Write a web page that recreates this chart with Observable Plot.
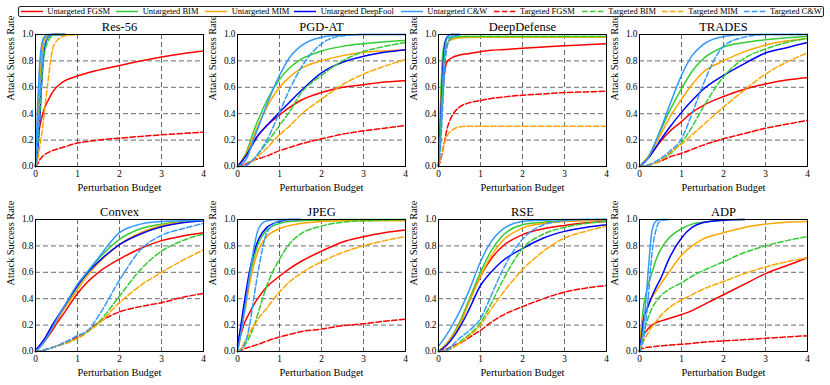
<!DOCTYPE html>
<html><head><meta charset="utf-8">
<script src="https://cdn.jsdelivr.net/npm/d3@7"></script>
<script src="https://cdn.jsdelivr.net/npm/@observablehq/plot@0.6"></script>
<style>
html,body{margin:0;padding:0;background:#fff;}
#chart{position:relative;width:830px;height:385px;overflow:hidden;font-family:"Liberation Serif","Times New Roman",serif;}
#chart svg.panel{font-family:"Liberation Serif","Times New Roman",serif !important;font-size:9.3px;}
#chart svg.panel text{font-family:"Liberation Serif","Times New Roman",serif !important;}
.panel{position:absolute;}
.legend{position:absolute;left:17.5px;top:6px;width:806px;height:11px;border:1px solid #222;border-radius:2px;box-sizing:border-box;background:#fff;}
.lg-line{position:absolute;top:0;}
.lg-text{position:absolute;top:0;font-size:8.5px;line-height:9px;white-space:nowrap;color:#000;font-family:"Liberation Serif","Times New Roman",serif;}
</style>
</head><body>
<div id="chart"></div>
<script>
// ---- data ----
const seriesNames = ["Untargeted FGSM","Untargeted BIM","Untargeted MIM","Untargeted DeepFool","Untargeted C&W","Targeted FGSM","Targeted BIM","Targeted MIM","Targeted C&W"];
const seriesColors = ["#ff0000","#33cc33","#ffa500","#0000ff","#3399ff","#ff0000","#33cc33","#ffa500","#3399ff"];
const xTicks = [0,1,2,3,4];
const yTicks = [0,0.2,0.4,0.6,0.8,1.0];
const budgetsFine = [0,0.05,0.1,0.15,0.2,0.3,0.4,0.5,0.7,1,1.25,1.5,2,2.5,3,3.5,4];
const budgetsCoarse = [0,0.2,0.4,0.5,0.7,1,1.25,1.5,2,2.5,3,3.5,4];
const N = null;

// rows in seriesNames order
const res56 = [
  [0,0.2,0.3,0.37,0.43,0.5,0.56,0.6,0.65,0.685,0.71,0.73,0.765,0.8,0.83,0.855,0.875],
  [0,0.35,0.7,0.9,0.97,0.995,1,1,1,N,N,N,N,N,N,N,N],
  [0,0.3,0.62,0.85,0.95,0.99,1,1,1,N,N,N,N,N,N,N,N],
  [0,0.1,0.35,0.65,0.86,0.98,1,1,1,N,N,N,N,N,N,N,N],
  [0,0.45,0.78,0.93,0.98,1,1,1,1,N,N,N,N,N,N,N,N],
  [0,0.02,0.05,0.07,0.085,0.105,0.12,0.13,0.15,0.178,0.19,0.2,0.215,0.228,0.24,0.25,0.26],
  [0,0.15,0.4,0.65,0.83,0.95,0.99,1,1,N,N,N,N,N,N,N,N],
  [0,0.05,0.15,0.25,0.38,0.65,0.88,0.95,0.99,1,N,N,N,N,N,N,N],
  [0,0.2,0.5,0.75,0.9,0.98,1,1,1,N,N,N,N,N,N,N,N]
];
const pgdat = [
  [0,0.08,0.2,0.24,0.31,0.39,0.45,0.5,0.56,0.6,0.62,0.64,0.65],
  [0,0.1,0.28,0.36,0.5,0.66,0.75,0.81,0.875,0.91,0.93,0.945,0.955],
  [0,0.09,0.24,0.32,0.45,0.6,0.68,0.74,0.8,0.84,0.865,0.875,0.885],
  [0,0.08,0.19,0.24,0.31,0.41,0.49,0.57,0.71,0.79,0.835,0.865,0.885],
  [0,0.05,0.22,0.3,0.47,0.69,0.83,0.91,0.98,0.995,1,1,1],
  [0,0.02,0.05,0.06,0.08,0.12,0.145,0.17,0.21,0.245,0.27,0.29,0.31],
  [0,0.01,0.06,0.1,0.18,0.31,0.42,0.55,0.69,0.8,0.87,0.91,0.94],
  [0,0.01,0.05,0.08,0.14,0.24,0.31,0.39,0.51,0.62,0.7,0.76,0.81],
  [0,0.01,0.06,0.1,0.2,0.41,0.59,0.74,0.93,0.99,1,1,1]
];
const deepDefense = [
  [0,0.3,0.55,0.72,0.79,0.82,0.835,0.845,0.855,0.87,0.88,0.885,0.895,0.905,0.915,0.922,0.93],
  [0,0.5,0.85,0.94,0.97,0.98,0.983,0.985,0.985,0.985,0.985,0.985,0.985,0.985,0.985,0.985,0.985],
  [0,0.4,0.75,0.88,0.93,0.96,0.97,0.975,0.978,0.98,0.98,0.98,0.98,0.98,0.98,0.98,0.98],
  [0,0.35,0.72,0.92,0.98,1,1,1,N,N,N,N,N,N,N,N,N],
  [0,0.3,0.65,0.88,0.97,1,1,1,N,N,N,N,N,N,N,N,N],
  [0,0.05,0.12,0.2,0.28,0.37,0.42,0.45,0.48,0.5,0.515,0.525,0.54,0.55,0.56,0.565,0.57],
  [0,0.25,0.55,0.8,0.92,0.97,0.98,0.985,0.985,0.985,0.985,0.985,0.985,0.985,0.985,0.985,0.985],
  [0,0.06,0.13,0.19,0.23,0.27,0.29,0.3,0.305,0.305,0.305,0.305,0.305,0.305,0.305,0.305,0.305],
  [0,0.15,0.45,0.75,0.9,0.98,0.99,1,N,N,N,N,N,N,N,N,N]
];
const trades = [
  [0,0.06,0.15,0.19,0.26,0.34,0.41,0.46,0.53,0.585,0.625,0.655,0.675],
  [0,0.07,0.2,0.27,0.41,0.59,0.72,0.81,0.905,0.94,0.96,0.975,0.985],
  [0,0.07,0.18,0.24,0.36,0.51,0.62,0.71,0.8,0.87,0.92,0.95,0.97],
  [0,0.06,0.15,0.2,0.29,0.41,0.5,0.58,0.69,0.78,0.86,0.9,0.94],
  [0,0.06,0.2,0.28,0.45,0.69,0.84,0.92,0.985,1,1,1,1],
  [0,0.01,0.03,0.04,0.07,0.1,0.13,0.16,0.21,0.25,0.29,0.32,0.35],
  [0,0.01,0.03,0.05,0.09,0.18,0.3,0.44,0.68,0.82,0.89,0.94,0.97],
  [0,0.01,0.03,0.05,0.1,0.17,0.24,0.31,0.45,0.58,0.7,0.79,0.86],
  [0,0.01,0.04,0.06,0.11,0.21,0.4,0.61,0.91,0.98,1,1,1]
];
const convex = [
  [0,0.07,0.16,0.21,0.3,0.44,0.53,0.6,0.7,0.78,0.84,0.875,0.9],
  [0.01,0.08,0.19,0.24,0.34,0.49,0.6,0.7,0.85,0.93,0.965,0.985,0.995],
  [0,0.08,0.18,0.23,0.33,0.47,0.58,0.67,0.81,0.9,0.955,0.98,0.99],
  [0.01,0.09,0.2,0.25,0.35,0.5,0.6,0.68,0.81,0.89,0.945,0.975,0.99],
  [0,0.07,0.18,0.24,0.35,0.51,0.61,0.71,0.9,0.965,0.985,0.99,0.995],
  [0,0.01,0.03,0.04,0.07,0.11,0.16,0.22,0.3,0.34,0.37,0.41,0.44],
  [0,0.01,0.03,0.04,0.06,0.1,0.15,0.22,0.42,0.62,0.76,0.84,0.89],
  [0,0.01,0.03,0.04,0.06,0.1,0.15,0.21,0.37,0.5,0.6,0.69,0.77],
  [0,0.01,0.03,0.04,0.07,0.12,0.16,0.27,0.54,0.77,0.88,0.93,0.97]
];
const jpeg = [
  [0,0.1,0.15,0.2,0.24,0.3,0.36,0.41,0.49,0.57,0.63,0.68,0.76,0.83,0.87,0.9,0.92],
  [0,0.1,0.2,0.3,0.4,0.58,0.72,0.82,0.92,0.97,0.985,0.99,0.995,1,1,1,1],
  [0,0.08,0.17,0.26,0.35,0.53,0.67,0.77,0.87,0.93,0.955,0.97,0.985,0.99,0.99,0.99,0.99],
  [0.05,0.14,0.24,0.35,0.45,0.63,0.76,0.85,0.94,0.985,1,1,N,N,N,N,N],
  [0,0.08,0.17,0.28,0.38,0.6,0.8,0.93,0.99,1,1,N,N,N,N,N,N],
  [0,0.005,0.01,0.02,0.025,0.035,0.045,0.055,0.08,0.11,0.13,0.15,0.17,0.195,0.21,0.23,0.245],
  [0,0.01,0.02,0.04,0.06,0.12,0.2,0.3,0.5,0.7,0.82,0.89,0.95,0.98,0.99,0.995,1],
  [0,0.01,0.03,0.06,0.09,0.15,0.2,0.25,0.33,0.45,0.53,0.59,0.68,0.75,0.8,0.84,0.87],
  [0,0,0.02,0.04,0.08,0.22,0.43,0.62,0.9,0.99,1,1,N,N,N,N,N]
];
const rse = [
  [0,0.06,0.15,0.21,0.36,0.57,0.7,0.79,0.885,0.93,0.955,0.975,0.985],
  [0,0.06,0.16,0.22,0.37,0.6,0.76,0.87,0.96,0.98,0.99,0.995,1],
  [0,0.06,0.15,0.2,0.35,0.57,0.72,0.83,0.935,0.97,0.985,0.99,0.995],
  [0,0.05,0.13,0.18,0.3,0.5,0.6,0.68,0.78,0.86,0.91,0.94,0.96],
  [0.04,0.13,0.24,0.3,0.44,0.68,0.83,0.92,0.985,0.995,1,1,1],
  [0,0.02,0.05,0.06,0.1,0.16,0.22,0.27,0.34,0.4,0.45,0.48,0.5],
  [0,0.01,0.04,0.07,0.12,0.22,0.36,0.52,0.78,0.89,0.94,0.97,0.985],
  [0,0.01,0.04,0.06,0.11,0.2,0.32,0.43,0.62,0.76,0.86,0.91,0.95],
  [0,0.01,0.07,0.1,0.15,0.25,0.42,0.6,0.85,0.96,0.99,1,1]
];
const adp = [
  [0,0.11,0.13,0.15,0.17,0.2,0.22,0.23,0.25,0.28,0.31,0.35,0.43,0.51,0.59,0.65,0.71],
  [0,0.2,0.35,0.43,0.5,0.6,0.7,0.77,0.86,0.93,0.965,0.98,0.995,1,N,N,N],
  [0,0.2,0.28,0.31,0.34,0.41,0.46,0.51,0.6,0.73,0.8,0.85,0.9,0.94,0.965,0.98,0.985],
  [0,0.12,0.25,0.3,0.34,0.42,0.49,0.55,0.7,0.86,0.94,0.975,0.995,1,N,N,N],
  [0,0.08,0.2,0.38,0.58,0.92,0.99,1,1,N,N,N,N,N,N,N,N],
  [0,0.02,0.025,0.03,0.032,0.035,0.04,0.042,0.048,0.055,0.062,0.07,0.08,0.09,0.1,0.11,0.12],
  [0,0.06,0.14,0.2,0.25,0.33,0.38,0.42,0.47,0.52,0.57,0.61,0.68,0.75,0.8,0.84,0.87],
  [0,0.05,0.08,0.11,0.14,0.19,0.23,0.27,0.33,0.39,0.43,0.47,0.53,0.59,0.64,0.68,0.71],
  [0,0.03,0.1,0.22,0.38,0.75,0.93,0.99,1,N,N,N,N,N,N,N,N]
];

const panelTitles = ["Res-56","PGD-AT","DeepDefense","TRADES","Convex","JPEG","RSE","ADP"];
const panelRows = [res56, pgdat, deepDefense, trades, convex, jpeg, rse, adp];
const panelBudgets = [budgetsFine, budgetsCoarse, budgetsFine, budgetsCoarse, budgetsCoarse, budgetsFine, budgetsCoarse, budgetsFine];

// ---- layout ----
const frameLefts = [35, 237, 438, 638.5];
const frameTops = [34, 219];
const FW = 168, FH = 132;
const ML = 35, MR = 5, MT = 30, MB = 30;
const root = document.getElementById("chart");
const serif = '"Liberation Serif","Times New Roman",serif';

panelTitles.forEach((title, pi) => {
  const budgets = panelBudgets[pi];
  const data = [];
  panelRows[pi].forEach((vals, si) => vals.forEach((v, k) => {
    if (v != null) data.push({series: seriesNames[si], targeted: si >= 5, x: budgets[k], y: v});
  }));
  const chart = Plot.plot({
    width: ML + FW + MR, height: MT + FH + MB,
    marginLeft: ML, marginRight: MR, marginTop: MT, marginBottom: MB,
    style: {fontFamily: serif, fontSize: "9.3px", background: "transparent", overflow: "visible", color: "#000"},
    x: {domain: [0, 4]},
    y: {domain: [0, 1]},
    color: {domain: seriesNames, range: seriesColors},
    marks: [
      Plot.gridX([1, 2, 3], {stroke: "#222", strokeOpacity: 0.85, strokeWidth: 0.8, strokeDasharray: "5,3"}),
      Plot.gridY([0.2, 0.4, 0.6, 0.8], {stroke: "#222", strokeOpacity: 0.85, strokeWidth: 0.8, strokeDasharray: "5,3"}),
      Plot.line(data.filter(d => !d.targeted), {x: "x", y: "y", z: "series", stroke: "series", strokeWidth: 1.5, curve: "monotone-x"}),
      Plot.line(data.filter(d => d.targeted), {x: "x", y: "y", z: "series", stroke: "series", strokeWidth: 1.5, strokeDasharray: "5.5,2.4", curve: "monotone-x"}),
      Plot.frame({stroke: "#000", strokeWidth: 1}),
      Plot.axisX(xTicks, {tickSize: 0, tickPadding: 4, label: null, fontSize: 9.3, tickFormat: d => String(d)}),
      Plot.axisY(yTicks, {tickSize: 0, tickPadding: 2, label: null, fontSize: 9.3, tickFormat: d3.format(".1f")}),
      Plot.text([title], {text: d => d, frameAnchor: "top", dy: -8, lineAnchor: "middle", fontSize: 12.5, fontWeight: "normal"}),
      Plot.text(["Perturbation Budget"], {text: d => d, frameAnchor: "bottom", dy: 21, lineAnchor: "middle", fontSize: 10.4}),
      Plot.text(["Attack Success Rate"], {text: d => d, frameAnchor: "left", dx: -25, rotate: -90, lineAnchor: "middle", fontSize: 10.4})
    ]
  });
  const col = pi % 4, row = Math.floor(pi / 4);
  chart.classList.add("panel");
  chart.style.left = (frameLefts[col] - ML) + "px";
  chart.style.top = (frameTops[row] - MT) + "px";
  chart.style.fontFamily = serif;
  root.appendChild(chart);
});

// ---- legend ----
const legendTextX = [47.3, 142.7, 231.7, 320.7, 427.3, 520, 608.3, 688.3, 770];
const legend = document.createElement("div");
legend.className = "legend";
root.appendChild(legend);
const LX = 17.5;
seriesNames.forEach((name, i) => {
  const ns = "http://www.w3.org/2000/svg";
  const svg = document.createElementNS(ns, "svg");
  svg.setAttribute("width", 22); svg.setAttribute("height", 9);
  svg.setAttribute("class", "lg-line");
  svg.style.left = (legendTextX[i] - 26.5 - LX - 1) + "px";
  const ln = document.createElementNS(ns, "line");
  ln.setAttribute("x1", 0); ln.setAttribute("x2", 22);
  ln.setAttribute("y1", 4.5); ln.setAttribute("y2", 4.5);
  ln.setAttribute("stroke", seriesColors[i]); ln.setAttribute("stroke-width", 1.5);
  if (i >= 5) ln.setAttribute("stroke-dasharray", "5.5,2.4");
  svg.appendChild(ln);
  legend.appendChild(svg);
  const t = document.createElement("span");
  t.className = "lg-text";
  t.textContent = name;
  t.style.left = (legendTextX[i] - LX - 1) + "px";
  legend.appendChild(t);
});
</script>
</body></html>
